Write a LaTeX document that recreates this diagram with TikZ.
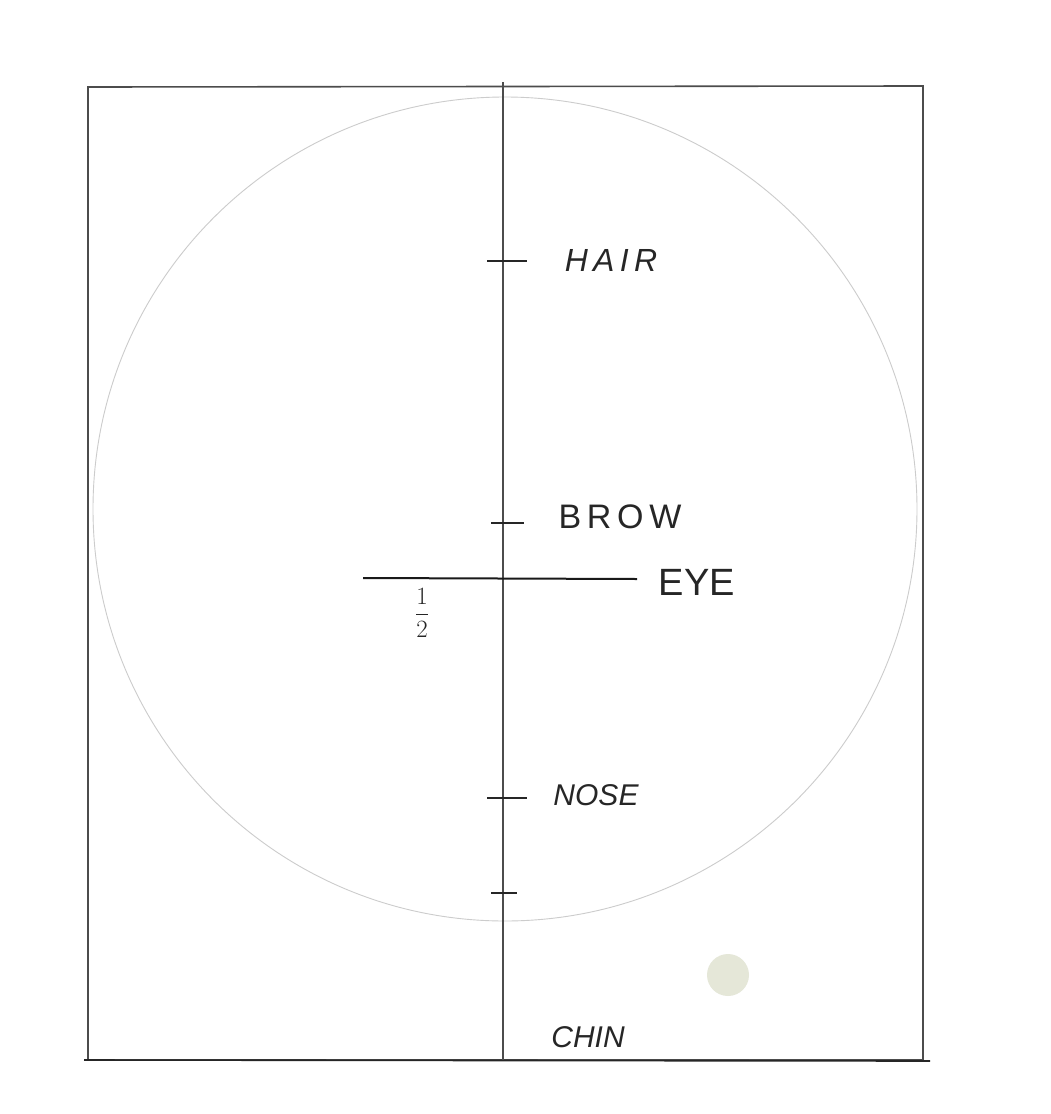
\documentclass[tikz,border=0pt]{standalone}
\usepackage{fontspec}
\setmainfont{Liberation Sans}
\begin{document}
\begin{tikzpicture}[x=1pt,y=-1pt,
  frame/.style={draw=black!70,line width=1.6pt},
  guide/.style={draw=black!20,line width=0.9pt},
  tick/.style={draw=black!85,line width=1.5pt},
  lbl/.style={text=black!85,inner sep=0pt}]
\useasboundingbox[fill=white] (0,0) rectangle (1050,1114);
% head circle
\draw[guide] (505,509) circle (412);
% frame
\coordinate (tl) at (88,87);
\coordinate (tr) at (923,86);
\coordinate (bl) at (88,1060);
\coordinate (br) at (923,1060);
\draw[frame] (tl) -- (tr) -- (br) -- (bl) -- cycle;
\coordinate (bext1) at (84,1060);
\coordinate (bext2) at (930,1061);
\draw[frame,draw=black!85] (bext1) -- (bext2);
% centre line
\coordinate (ctop) at (503,82);
\coordinate (cbot) at (503,1060);
\draw[frame] (ctop) -- (cbot);
% ticks
\coordinate (h1) at (487,261); \coordinate (h2) at (527,261);
\coordinate (b1) at (491,523); \coordinate (b2) at (524,523);
\coordinate (n1) at (487,798); \coordinate (n2) at (527,798);
\coordinate (c1) at (491,893); \coordinate (c2) at (517,893);
\draw[tick] (h1) -- (h2);
\draw[tick] (b1) -- (b2);
\draw[tick] (n1) -- (n2);
\draw[tick] (c1) -- (c2);
% eye line
\coordinate (e1) at (363,578); \coordinate (e2) at (637,579);
\draw[draw=black!90,line width=2pt] (e1) -- (e2);
% labels
\node[lbl,font=\fontsize{32}{32}\selectfont\itshape] (hair) at (611,260) {H\,A\,I\,R};
\node[lbl,font=\fontsize{34}{34}\selectfont] (brow) at (620,517) {B\,R\,O\,W};
\node[lbl,font=\fontsize{38}{38}\selectfont] (eye) at (697,582) {EYE};
\node[lbl,font=\fontsize{30}{30}\selectfont\itshape] (nose) at (596,795) {NOSE};
\node[lbl,font=\fontsize{30}{30}\selectfont\itshape] (chin) at (588,1037) {CHIN};
\node[lbl] (half) at (422,613) {\fontsize{28}{28}\selectfont$\displaystyle\frac{1}{2}$};
% smudge
\fill[color={rgb,255:red,218;green,221;blue,200},opacity=0.7] (728,975) circle (21);
\end{tikzpicture}
\end{document}
